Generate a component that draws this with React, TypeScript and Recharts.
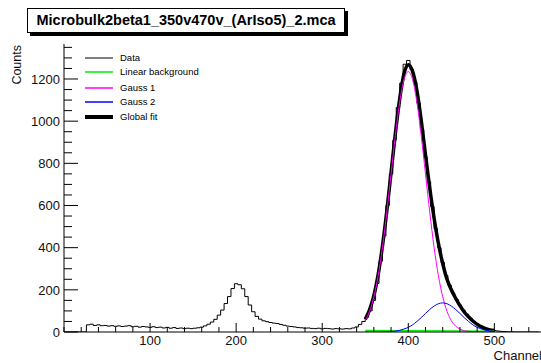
import { ComposedChart, Legend, Line, XAxis, YAxis, Label } from 'recharts';

const FONT = '"Liberation Sans", Arial, Helvetica, sans-serif';

// histogram: 4-channel bins starting at channel 0
const BIN_START = 0;
const BIN_WIDTH = 4;
const counts = [
  0, 0, 0, 0, 0, 0, 0,
  34, 37, 31, 34, 30, 31, 28, 30, 27, 29, 26, 28, 30, 25, 27, 23, 26, 24,
  22, 25, 21, 23, 19, 22, 18, 21, 17, 19, 16, 18, 16, 18, 20, 23, 29, 37,
  47, 60, 80, 104, 135, 168, 206, 229, 224, 205, 168, 128, 96, 74, 61, 53,
  49, 45, 42, 40, 36, 32, 28, 26, 24, 21, 20, 18, 19, 17, 16, 18, 15, 17,
  16, 14, 16, 15, 14, 16, 15, 19, 24, 36, 50, 70, 100, 150, 230, 335, 455,
  600, 750, 910, 1065, 1180, 1270, 1288, 1245, 1185, 1085, 960, 830, 712,
  595, 490, 400, 330, 268, 222, 185, 155, 128, 104, 84, 66, 51, 39, 29, 21,
  15, 10, 7, 5, 3, 2, 1, 1, 0, 0, 0, 0, 0, 0, 0, 0,
];

// fit functions sampled every 5 channels over the fit range
const FIT_START = 350;
const FIT_STEP = 5;
const globalFit = [
  60, 105, 172, 272, 408, 572, 757, 942, 1105, 1225, 1268, 1236, 1145, 1005,
  840, 680, 540, 420, 325, 250, 200, 160, 125, 95, 72, 52, 36, 24, 16, 10, 7,
];
const gauss1 = [
  54, 98, 167, 267, 401, 566, 749, 932, 1090, 1197, 1235, 1197, 1090, 932,
  749, 566, 401, 267, 167, 98, 54, 28, 14, 6, 3, 1, 0, 0, 0, 0, 0,
];
const gauss2 = [
  0, 0, 0, 0, 1, 1, 2, 4, 8, 14, 22, 34, 50, 68, 88, 107, 123, 134, 138, 134,
  123, 107, 88, 68, 50, 34, 22, 14, 8, 5, 2,
];
const bgChannels = [350, 500];
const bgValues = [8, 4];

const xMajor = [100, 200, 300, 400, 500];
const yMajor = [0, 200, 400, 600, 800, 1000, 1200];
const xTicks = Array.from({ length: 29 }, (_, i) => i * 20);
const yTicks = Array.from({ length: 28 }, (_, i) => i * 50);
const X_DOMAIN: [number, number] = [0, 560];
const Y_DOMAIN: [number, number] = [0, 1366];

// frame layout
const WIDTH = 560;
const HEIGHT = 363;
const MARGIN = { top: 44, right: 14, bottom: 0, left: 0 };
const Y_AXIS_WIDTH = 64;
const X_AXIS_HEIGHT = 31;
const PLOT_LEFT = MARGIN.left + Y_AXIS_WIDTH;
const PLOT_BOTTOM = HEIGHT - MARGIN.bottom - X_AXIS_HEIGHT;

// merge everything into one table keyed by channel
const rows = new Map<number, any>();
const put = (ch: number, key: string, v: number) => {
  const r = rows.get(ch) || { ch };
  r[key] = v;
  rows.set(ch, r);
};
counts.forEach((v, i) => put(BIN_START + i * BIN_WIDTH, 'data', v));
globalFit.forEach((v, i) => put(FIT_START + i * FIT_STEP, 'fit', v));
gauss1.forEach((v, i) => put(FIT_START + i * FIT_STEP, 'g1', v));
gauss2.forEach((v, i) => put(FIT_START + i * FIT_STEP, 'g2', v));
bgChannels.forEach((ch, i) => put(ch, 'bg', bgValues[i]));
const table = Array.from(rows.values()).sort((a, b) => a.ch - b.ch);

const legendItems = [
  { name: 'Data', color: '#000000', width: 1 },
  { name: 'Linear background', color: '#00ee00', width: 1.5 },
  { name: 'Gauss 1', color: '#ff00ff', width: 1.5 },
  { name: 'Gauss 2', color: '#0000ff', width: 1.5 },
  { name: 'Global fit', color: '#000000', width: 4 },
];
const legendRows = [0, 14, 30, 44, 59];

// ROOT-style ticks: pointing into the frame
const XTick = ({ x, payload }: any) => {
  const major = xMajor.includes(payload.value);
  const y = PLOT_BOTTOM;
  return (
    <g>
      <line x1={x} y1={y} x2={x} y2={y - (major ? 9 : 5)} stroke="#000" />
      {major && (
        <text x={x} y={y + 8.5} dy="0.36em" textAnchor="middle" fontSize={13} fontFamily={FONT} fill="#111">
          {payload.value}
        </text>
      )}
    </g>
  );
};

const YTick = ({ y, payload }: any) => {
  const major = yMajor.includes(payload.value);
  const x = PLOT_LEFT;
  return (
    <g>
      <line x1={x} y1={y} x2={x + (major ? 14 : 8)} y2={y} stroke="#000" />
      {major && (
        <text x={x - 4} y={y} dy="0.36em" textAnchor="end" fontSize={13} fontFamily={FONT} fill="#111">
          {payload.value}
        </text>
      )}
    </g>
  );
};

const LegendBox = () => (
  <svg width={170} height={80} style={{ display: 'block', overflow: 'visible' }}>
    {legendItems.map((it, i) => (
      <g key={it.name}>
        <line x1={5} x2={33} y1={legendRows[i] + 6} y2={legendRows[i] + 6} stroke={it.color} strokeWidth={it.width} />
        <text x={40} y={legendRows[i] + 6} dy="0.36em" fontSize={9.5} fontFamily={FONT} fill="#000">
          {it.name}
        </text>
      </g>
    ))}
  </svg>
);

export default function App() {
  return (
    <div style={{ position: 'absolute', left: 0, top: 0, width: 541, height: 363, overflow: 'hidden', background: '#fff' }}>
      <ComposedChart width={WIDTH} height={HEIGHT} data={table} margin={MARGIN}>
        <XAxis
          dataKey="ch"
          type="number"
          domain={X_DOMAIN}
          ticks={xTicks}
          interval={0}
          height={X_AXIS_HEIGHT}
          tickLine={false}
          tick={<XTick />}
          axisLine={{ stroke: '#000' }}
          allowDataOverflow
        >
          <Label
            content={() => (
              <text x={542} y={359.5} textAnchor="end" fontSize={13} fontFamily={FONT} fill="#111">
                Channel
              </text>
            )}
          />
        </XAxis>
        <XAxis
          xAxisId="top"
          orientation="top"
          dataKey="ch"
          type="number"
          domain={X_DOMAIN}
          height={0}
          tick={false}
          tickLine={false}
          axisLine={{ stroke: '#000' }}
        />
        <YAxis
          type="number"
          domain={Y_DOMAIN}
          ticks={yTicks}
          interval={0}
          width={Y_AXIS_WIDTH}
          tickLine={false}
          tick={<YTick />}
          axisLine={{ stroke: '#000' }}
          allowDataOverflow
        >
          <Label
            content={() => (
              <text transform="translate(20.5,45) rotate(-90)" textAnchor="end" fontSize={12.5} fontFamily={FONT} fill="#111">
                Counts
              </text>
            )}
          />
        </YAxis>
        <Legend
          layout="vertical"
          align="center"
          verticalAlign="middle"
          content={() => <LegendBox />}
          wrapperStyle={{ position: 'absolute', left: 80, top: 52, width: 170, height: 80 }}
        />
        <Line dataKey="data" type="step" stroke="#000" strokeWidth={1} dot={false} connectNulls isAnimationActive={false} />
        <Line dataKey="fit" type="monotone" stroke="#000" strokeWidth={3.5} dot={false} connectNulls isAnimationActive={false} />
        <Line dataKey="bg" type="linear" stroke="#00ee00" strokeWidth={1.2} dot={false} connectNulls isAnimationActive={false} />
        <Line dataKey="g1" type="monotone" stroke="#ff00ff" strokeWidth={1} dot={false} connectNulls isAnimationActive={false} />
        <Line dataKey="g2" type="monotone" stroke="#0000ff" strokeWidth={1} dot={false} connectNulls isAnimationActive={false} />
      </ComposedChart>
      <div
        style={{
          position: 'absolute',
          left: 27,
          top: 8,
          width: 316,
          height: 23,
          border: '1px solid #000',
          boxShadow: '3px 3px 0 #000',
          background: '#fff',
          fontFamily: FONT,
          fontWeight: 'bold',
          fontSize: 14.5,
          lineHeight: '23px',
          textAlign: 'center',
          color: '#000',
        }}
      >
        Microbulk2beta1_350v470v_(ArIso5)_2.mca
      </div>
    </div>
  );
}
